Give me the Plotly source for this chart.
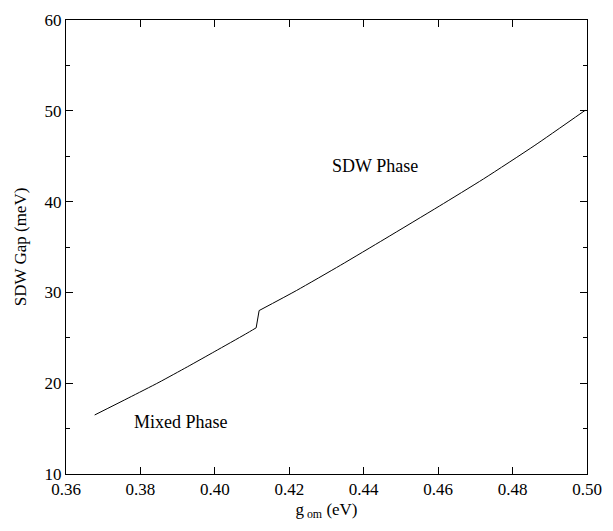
import plotly.graph_objects as go

# Mixed-phase branch and SDW branch of the gap curve
g_low = [0.3677, 0.3769, 0.3850, 0.3926, 0.4000, 0.4082, 0.4111]
gap_low = [16.5, 18.4, 20.1, 21.8, 23.5, 25.4, 26.1]
g_high = [0.4119, 0.4219, 0.4338, 0.4457, 0.4603, 0.4722, 0.4860, 0.4995]
gap_high = [28.0, 30.2, 33.0, 35.9, 39.5, 42.5, 46.2, 50.05]

x_ticks = [0.36, 0.38, 0.40, 0.42, 0.44, 0.46, 0.48, 0.50]
x_tick_labels = ["0.36", "0.38", "0.40", "0.42", "0.44", "0.46", "0.48", "0.50"]
y_ticks = [10, 20, 30, 40, 50, 60]

labels = ["SDW Phase", "Mixed Phase"]
label_x = [0.443, 0.391]
label_y = [43.9, 15.7]

font = "Liberation Serif, Times New Roman, serif"
line = dict(color="black", width=1)

fig = go.Figure()
fig.add_trace(go.Scatter(x=g_low, y=gap_low, mode="lines",
                         line=dict(**line, shape="spline", smoothing=0.6), showlegend=False))
fig.add_trace(go.Scatter(x=[g_low[-1], g_high[0]], y=[gap_low[-1], gap_high[0]], mode="lines",
                         line=line, showlegend=False))
fig.add_trace(go.Scatter(x=g_high, y=gap_high, mode="lines",
                         line=dict(**line, shape="spline", smoothing=0.6), showlegend=False))

for t, xx, yy in zip(labels, label_x, label_y):
    fig.add_annotation(x=xx, y=yy, text=t, showarrow=False,
                       font=dict(family=font, size=18, color="black"))

fig.update_layout(
    width=613, height=531,
    margin=dict(l=66, r=18, t=11, b=57),
    paper_bgcolor="white", plot_bgcolor="white",
    font=dict(family=font, size=17, color="black"),
    xaxis=dict(range=[0.36, 0.50], tickvals=x_ticks, ticktext=x_tick_labels,
               ticks="inside", ticklen=7, tickcolor="black", mirror="ticks",
               showline=True, linecolor="black", linewidth=1, showgrid=False,
               zeroline=False, tickfont=dict(family=font, size=17),
               title=dict(text="g<sub> om</sub> (eV)", standoff=4,
                          font=dict(family=font, size=17))),
    yaxis=dict(range=[10, 60], tickvals=y_ticks,
               ticks="inside", ticklen=7, tickcolor="black", mirror="ticks",
               showline=True, linecolor="black", linewidth=1, showgrid=False,
               zeroline=False, tickfont=dict(family=font, size=17),
               minor=dict(dtick=5, ticks="inside", ticklen=4, tickcolor="black"),
               title=dict(text="SDW Gap (meV)", standoff=13,
                          font=dict(family=font, size=17))),
)

fig.write_html("out.html")
